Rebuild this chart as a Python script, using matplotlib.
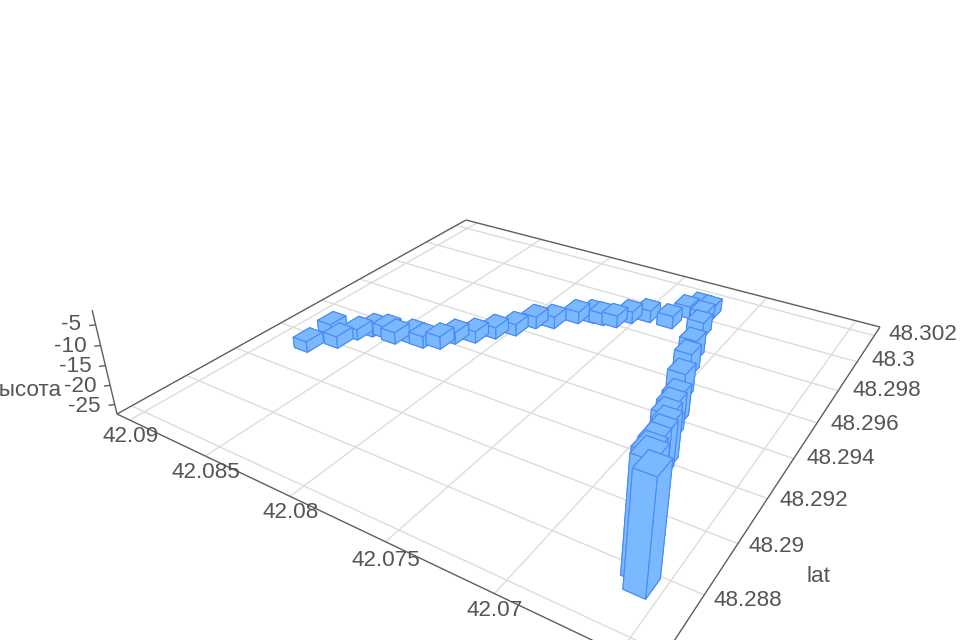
import numpy as np
import matplotlib
matplotlib.use("Agg")
import matplotlib.pyplot as plt
from mpl_toolkits.mplot3d.art3d import Line3DCollection

plt.rcParams['font.family'] = ['Liberation Sans', 'DejaVu Sans']

# ---- data ----
bar_lng = [42.08796, 42.08817, 42.08695, 42.08665, 42.08620, 42.08544, 42.08474, 42.08400,
           42.08326, 42.08246, 42.08212, 42.08131, 42.08067, 42.07997, 42.07949, 42.07868,
           42.07788, 42.07715, 42.07663, 42.07594, 42.07547, 42.07470, 42.07341, 42.07312,
           42.07262, 42.07202, 42.07203, 42.07163, 42.07099, 42.07060, 42.06996, 42.06931,
           42.06905, 42.06891, 42.06835, 42.06825, 42.06812, 42.06706, 42.06621, 42.06581]
bar_lat = [48.29142, 48.29268, 48.29214, 48.29289, 48.29332, 48.29347, 48.29335, 48.29365,
           48.29364, 48.29388, 48.29441, 48.29482, 48.29540, 48.29593, 48.29671, 48.29704,
           48.29778, 48.29808, 48.29812, 48.29823, 48.29876, 48.29916, 48.29917, 48.30015,
           48.30053, 48.30051, 48.29990, 48.29907, 48.29755, 48.29662, 48.29525, 48.29401,
           48.29329, 48.29279, 48.29198, 48.29156, 48.29096, 48.28913, 48.28792, 48.28755]
bar_height = [-24.6, -24.6, -24.3, -24.6, -24.6, -24.3, -24.3, -24.3, -24.3, -24.0,
              -24.3, -24.3, -24.3, -24.3, -24.2, -24.2, -24.2, -24.2, -24.2, -24.2,
              -24.2, -24.2, -24.0, -24.2, -24.0, -24.0, -23.6, -23.0, -21.7, -21.2,
              -20.1, -19.5, -18.3, -18.4, -16.1, -16.2, -15.2, -7.0, -1.0, -1.4]

lng_ticks = [42.09, 42.085, 42.08, 42.075, 42.07, 42.065]
lat_ticks = [48.302, 48.3, 48.298, 48.296, 48.294, 48.292, 48.29, 48.288, 48.286]
z_ticks = [-5, -10, -15, -20, -25]

lng_labels = ['42.09', '42.085', '42.08', '42.075', '42.07']
lat_labels = ['48.302', '48.3', '48.298', '48.296', '48.294', '48.292', '48.29', '48.288']
z_labels = ['-5', '-10', '-15', '-20', '-25']

# ---- axis ranges ----
lngmin, lngmax = 42.0637, 42.0909
latmin, latmax = 48.2855, 48.3027
zbot, ztop = -27.5, -1.5
bar_dlng, bar_dlat = 0.00090, 0.00075

# ---- camera: floor corners and vertical vanishing point on the canvas ----
corner_data = [(lngmax, latmin), (lngmin, latmin), (lngmin, latmax), (lngmax, latmax)]
corner_px = [(117, 414), (655, 670), (880, 327), (466, 220)]
vanish = np.array([507.0, 2042.0, 1.0])
L, LA, LZ = lngmax - lngmin, latmax - latmin, ztop - zbot

rows = []
for (a, b), (x, y) in zip(corner_data, corner_px):
    u, v = (a - lngmin) / L, (b - latmin) / LA
    rows.append([u, v, 1, 0, 0, 0, -x * u, -x * v, -x])
    rows.append([0, 0, 0, u, v, 1, -y * u, -y * v, -y])
H = np.linalg.svd(np.array(rows, float))[2][-1].reshape(3, 3)
if H[2, 2] < 0:
    H = -H
w0 = (H @ [1, 0, 1])[2]
zs = -0.06 * w0
T = np.zeros((3, 4))
T[:, 0] = H[:, 0] / L
T[:, 1] = H[:, 1] / LA
T[:, 2] = zs * vanish / LZ
T[:, 3] = H[:, 2] - H[:, 0] * lngmin / L - H[:, 1] * latmin / LA - zs * vanish * zbot / LZ

fig = plt.figure(figsize=(9.6, 6.4), dpi=100, facecolor='white')
ax = fig.add_axes([0, -0.25, 1, 1.5], projection='3d', computed_zorder=False)
ax.set_axis_off()

vx0, vx1 = ax.viewLim.intervalx
vy0, vy1 = ax.viewLim.intervaly
sx = (vx1 - vx0) / 960.0
sy = (vy1 - vy0) / 960.0
A = np.array([[sx, 0, vx0], [0, -sy, vy0 + 800 * sy], [0, 0, 1.0]])
P2 = A @ T
M = np.vstack([P2[0], P2[1], T[2] - np.array([0, 0, 0, 0.5 * w0]), T[2]])
ax.get_proj = lambda: M

ax.set_xlim(lngmin, lngmax)
ax.set_ylim(latmin, latmax)
ax.set_zlim(zbot, ztop)
ax.set_xticks(lng_ticks)
ax.set_yticks(lat_ticks)
ax.set_zticks(z_ticks)
ax.set_ylabel('lat')
ax.set_zlabel('высота')

GRID = '#dcdcdc'
AXIS = '#5e5e5e'
TEXT = '#555555'


def segments(segs, color, lw, zorder):
    col = Line3DCollection(segs, colors=color, linewidths=lw, zorder=zorder)
    ax.add_collection3d(col)


grid_segs = [[(t, latmin, zbot), (t, latmax, zbot)] for t in lng_ticks]
grid_segs += [[(lngmin, t, zbot), (lngmax, t, zbot)] for t in lat_ticks]
segments(grid_segs, GRID, 1.0, 1)

edge_segs = [[(lngmax, latmin, zbot), (lngmax, latmax, zbot)],
             [(lngmax, latmax, zbot), (lngmin, latmax, zbot)],
             [(lngmin, latmax, zbot), (lngmin, latmin, zbot)],
             [(lngmin, latmin, zbot), (lngmax, latmin, zbot)],
             [(lngmax, latmin, zbot), (lngmax, latmin, ztop)]]
edge_segs += [[(lngmax, latmin, t), (lngmax + 0.00018, latmin - 0.00012, t)] for t in z_ticks]
segments(edge_segs, AXIS, 1.0, 2)

# bars, painted far to near
centre = np.array([bar_lng, bar_lat, [zbot] * len(bar_lng), [1] * len(bar_lng)])
depth = T[2] @ centre
order = np.argsort(-depth)
for rank, i in enumerate(order):
    ax.bar3d(bar_lng[i] - bar_dlng / 2, bar_lat[i] - bar_dlat / 2, zbot,
             bar_dlng, bar_dlat, bar_height[i] - zbot,
             color='#7ab8ff', edgecolor='#4a8cf5', linewidth=0.8, shade=False,
             zorder=5 + rank)


def label(px, py, s, **kw):
    fig.text(px / 960, 1 - py / 640, s, color=TEXT, fontsize=16.2, ha='center',
             va='center', **kw)


for s, p in zip(lng_labels, [(130.5, 436), (206, 473), (291, 513), (386, 560), (495, 610)]):
    label(p[0], p[1], s)
for s, p in zip(lat_labels, [(923, 334), (893, 361), (887, 390), (864.5, 424), (841, 459),
                             (814, 500), (777, 546), (748, 601)]):
    label(p[0], p[1], s)
for s, p in zip(z_labels, [(71, 325), (70, 346), (75, 366), (80, 386), (84.5, 406)]):
    label(p[0], p[1], s)
label(818, 577, 'lat')
fig.text(62 / 960, 1 - 391 / 640, 'высота', color=TEXT, fontsize=16.2, ha='right', va='center')

fig.savefig('out.png', dpi=100, facecolor='white')
